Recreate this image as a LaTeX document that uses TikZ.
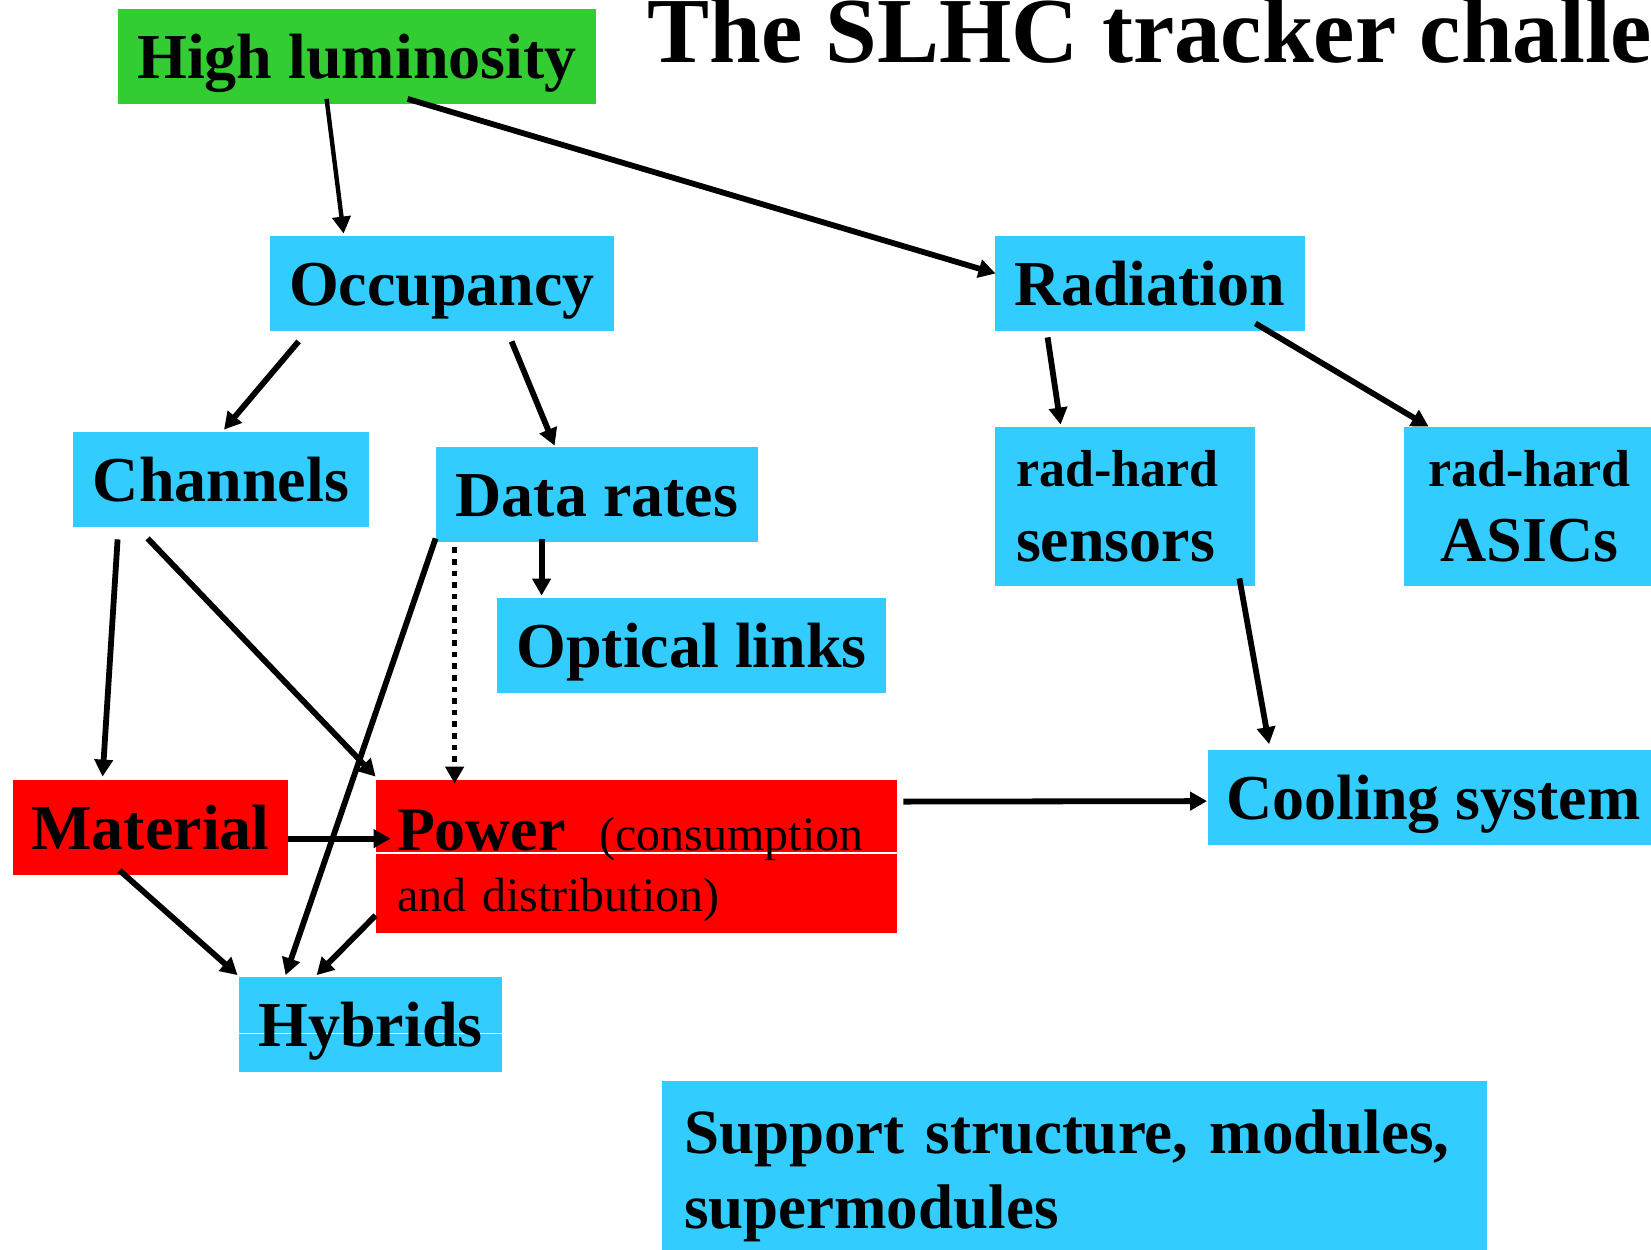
\documentclass[tikz,border=0pt]{standalone}
\usepackage{fontspec}
\setmainfont{Liberation Serif}
\usetikzlibrary{arrows.meta,calc}

\definecolor{boxblue}{HTML}{33CCFF}
\definecolor{boxgreen}{HTML}{33CC33}
\definecolor{boxred}{HTML}{FF0000}

\begin{document}
\begin{tikzpicture}[x=0.5pt,y=-0.5pt,
  box/.style={fill=boxblue,inner sep=0pt,minimum height=47.5pt,
    font=\fontsize{32}{37.5}\selectfont\bfseries,text height=22pt,text depth=0pt},
  tallbox/.style={fill=boxblue,inner sep=0pt,font=\fontsize{32}{37.5}\selectfont\bfseries},
  arr/.style={line width=2.9pt,-{Triangle[length=8.5pt,width=9pt]}},
  seam/.style={path picture={\draw[white,line width=0.6pt]
    ([yshift=-#1]path picture bounding box.north west) -- ([yshift=-#1]path picture bounding box.north east);}}]
\clip (0,0) rectangle (1651,1249);

%title
\node[anchor=base west,inner sep=0pt,font=\fontsize{46.5}{50}\selectfont\bfseries] (title) at (647,62) {The SLHC tracker challenge};

%boxes
\node[box,fill=boxgreen,minimum width=239pt] (hilum) at (357,56) {High luminosity};
\node[box,minimum width=172pt] (occ) at (442,283.5) {Occupancy};
\node[box,minimum width=155pt] (rad) at (1150,283.5) {Radiation};
\node[box,minimum width=148pt] (chan) at (221,479.5) {Channels};
\node[box,minimum width=161pt] (data) at (597,494.5) {Data rates};
\node[box,minimum width=194.5pt] (optic) at (691.5,645.5) {Optical links};
\node[box,fill=boxred,minimum width=137.5pt] (mat) at (150.5,827.5) {Material};
\node[box,minimum width=131.5pt,seam=28.5pt] (hyb) at (370.5,1024) {Hybrids};
\node[box,minimum width=226pt] (cool) at (1433.5,797) {Cooling system};

%two-line boxes
\node[tallbox,minimum width=130pt,minimum height=79.5pt,inner xsep=10.5pt,text width=109pt,align=left] (sens) at (1125,506.5)
  {{\fontsize{26}{37.5}\selectfont rad-hard}\\sensors};
\node[tallbox,minimum width=125.5pt,minimum height=79.5pt,align=center] (asic) at (1529.5,506.5)
  {{\fontsize{26}{37.5}\selectfont rad-hard}\\ASICs};
\node[tallbox,fill=boxred,minimum width=260.5pt,minimum height=76.5pt,inner xsep=10.5pt,text width=239.5pt,align=left,
  font=\fontsize{24}{30.5}\selectfont,seam=36.5pt] (pow) at (636.5,856.5)
  {\rule{0pt}{29.5pt}{\fontsize{31}{30.5}\selectfont\bfseries Power}\hspace{17pt}(consumption\\and distribution)};
\node[tallbox,minimum width=412.5pt,minimum height=95pt,inner xsep=11pt,text width=390.5pt,align=left,
  font=\fontsize{31.5}{37.5}\selectfont\bfseries] (supp) at (1074.5,1176)
  {Support structure, modules,\\supermodules};

%High luminosity
\draw[arr,line width=2.2pt] ($(hilum.south west)+(209,-5)$) -- ($(occ.north west)+(74,-2)$);
\draw[arr] ($(hilum.south west)+(290,-5)$) -- ($(rad.west)+(1,-10)$);

%Occupancy
\draw[arr] ($(occ.south west)+(29,10)$) -- ($(chan.north)+(3,-2)$);
\draw[arr] ($(occ.south west)+(242,10)$) -- ($(data.north west)+(119,-1)$);

%Radiation
\draw[arr] ($(rad.south west)+(53,6)$) -- ($(sens.north west)+(66,-2)$);
\draw[arr] ($(rad.south east)+(-50,-8)$) -- ($(asic.north west)+(25,0)$);

%Data rates
\draw[arr] ($(data.south west)+(106,-3)$) -- ($(optic.north west)+(45,-2)$);
\draw[arr,line width=2.8pt,dash pattern=on 2.8pt off 3pt] ($(data.south west)+(19,5)$) -- ($(pow.north west)+(79,4)$);
\draw[arr] ($(data.south west)+(0,-4)$) -- ($(hyb.north west)+(47,-1)$);

%Channels
\draw[arr] ($(chan.south west)+(45,12)$) -- ($(mat.north west)+(90,-3)$);
\draw[arr] ($(chan.south west)+(75,11)$) -- ($(pow.north west)+(0,-3)$);

%Material
\draw[arr] ($(mat.north east)+(0,59)$) -- ($(pow.north west)+(15,59)$);
\draw[arr] ($(mat.south west)+(107,-5)$) -- ($(hyb.north west)+(-1,-1)$);

%Power
\draw[arr] ($(pow.south west)+(0,-18)$) -- ($(hyb.north west)+(78,-1)$);
\draw[arr] ($(pow.north east)+(6,22)$) -- ($(cool.north west)+(0,52)$);

%sensors
\draw[arr] ($(sens.south east)+(-16,-8)$) -- ($(cool.north west)+(62,-5)$);
\end{tikzpicture}
\end{document}
